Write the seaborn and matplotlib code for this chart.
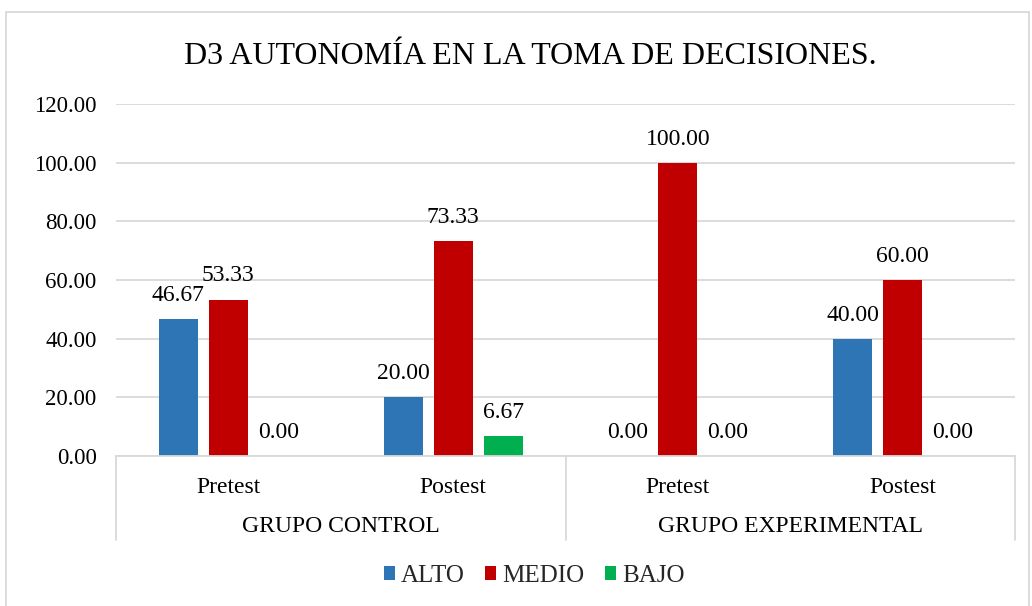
import matplotlib
matplotlib.use("Agg")
import matplotlib.pyplot as plt
from matplotlib.patches import Rectangle
import seaborn as sns
import pandas as pd

# ---- data ----
groups = ["GRUPO CONTROL", "GRUPO CONTROL", "GRUPO EXPERIMENTAL", "GRUPO EXPERIMENTAL"]
tests = ["Pretest", "Postest", "Pretest", "Postest"]
levels = ["ALTO", "MEDIO", "BAJO"]
alto = [46.67, 20.00, 0.00, 40.00]
medio = [53.33, 73.33, 100.00, 60.00]
bajo = [0.00, 6.67, 0.00, 0.00]
yticks = [0, 20, 40, 60, 80, 100, 120]
title = "D3 AUTONOMÍA EN LA TOMA DE DECISIONES."
colors = ["#2E75B6", "#C00000", "#00B050"]

cats = [f"{g}|{t}" for g, t in zip(groups, tests)]
rows = []
for lvl, vals in zip(levels, [alto, medio, bajo]):
    for c, v in zip(cats, vals):
        rows.append({"cat": c, "nivel": lvl, "valor": v})
df = pd.DataFrame(rows)

sns.set_theme(style="white")
plt.rcParams["font.family"] = ["Liberation Serif", "DejaVu Serif"]

W, H = 1032, 606
fig = plt.figure(figsize=(W / 100, H / 100), dpi=100)
L, R, T, B = 116, 1015, 104, 456
ax = fig.add_axes([L / W, 1 - B / H, (R - L) / W, (B - T) / H])

sns.barplot(data=df, x="cat", y="valor", hue="nivel", order=cats, hue_order=levels,
            palette=colors, width=0.667, gap=0.22, ax=ax, legend=True,
            saturation=1, errorbar=None, linewidth=0)

ax.set_ylim(0, 120)
ax.set_xlim(-0.5, len(cats) - 0.5)
ax.set_yticks(yticks)
ax.set_yticklabels([f"{v:.2f}" for v in yticks], fontsize=16.5, color="#000000")
ax.set_xticks(range(len(cats)))
ax.set_xticklabels(tests, fontsize=17, color="#000000")
ax.tick_params(axis="x", length=0, pad=15)
ax.tick_params(axis="y", length=0, pad=14)
ax.set_xlabel("")
ax.set_ylabel("")
ax.yaxis.grid(True, color="#d9d9d9", linewidth=1.3)
ax.set_axisbelow(True)
for s in ["top", "right", "left"]:
    ax.spines[s].set_visible(False)
ax.spines["bottom"].set_color("#d9d9d9")
ax.spines["bottom"].set_linewidth(1.3)

# data labels
for cont in ax.containers:
    for p in cont:
        h = p.get_height()
        ax.annotate(f"{h:.2f}", (p.get_x() + p.get_width() / 2, h),
                    xytext=(0, 17), textcoords="offset points",
                    ha="center", va="center", fontsize=17, color="#000000")

# multi-level category separators
depth = (540 - B) / (B - T)
for xa in [0, 0.5, 1]:
    ax.plot([xa, xa], [0, -depth], transform=ax.transAxes, color="#d9d9d9",
            lw=1.3, clip_on=False)
ugroups = list(dict.fromkeys(groups))
for i, g in enumerate(ugroups):
    ax.text((i + 0.5) / len(ugroups), -(526 - B) / (B - T), g,
            transform=ax.transAxes, ha="center", va="center", fontsize=17,
            color="#000000")

# title
fig.text(530 / W, 1 - 56 / H, title, ha="center", va="center", fontsize=23, color="#000000")

# legend
handles, labels = ax.get_legend_handles_labels()
ax.legend(handles, labels, loc="center", bbox_to_anchor=(534 / W, 1 - 576 / H),
          bbox_transform=fig.transFigure, ncol=3, frameon=False, fontsize=18,
          handlelength=0.45, handleheight=0.45, handletextpad=0.25, columnspacing=0.8)

# outer chart border
fig.patches.append(Rectangle((6 / W, -0.01), (1029 - 6) / W, 1 - 12 / H + 0.01,
                             transform=fig.transFigure, fill=False,
                             edgecolor="#d9d9d9", linewidth=1.3))

fig.savefig("out.png", dpi=100)
